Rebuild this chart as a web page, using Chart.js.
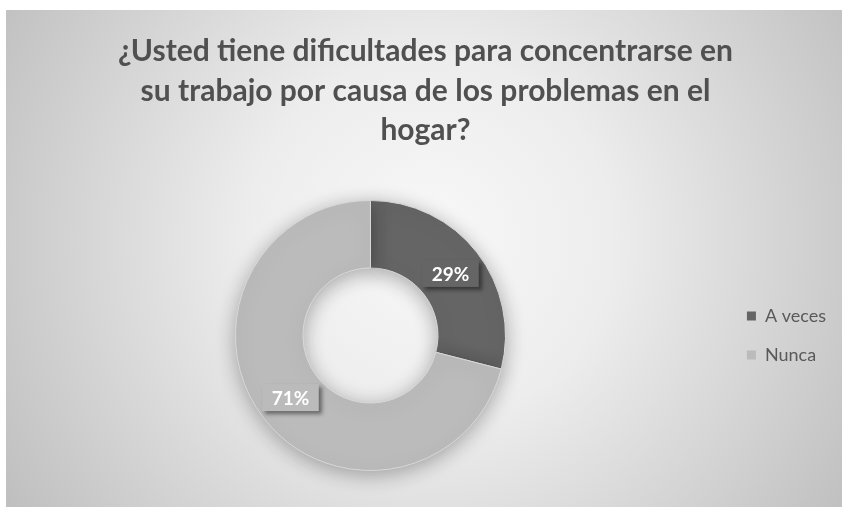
<!DOCTYPE html>
<html>
<head>
<meta charset="utf-8">
<script src="https://cdn.jsdelivr.net/npm/chart.js@4.4.0/dist/chart.umd.min.js"></script>
<style>
  html, body { margin: 0; padding: 0; background: #ffffff; }
  #wrap { width: 842px; height: 510px; position: relative; }
  canvas { display: block; }
</style>
</head>
<body>
<div id="wrap"><canvas id="chart" width="842" height="510"></canvas></div>
<script>
// Survey question and answers
const titleLines = [
  '¿Usted tiene dificultades para concentrarse en',
  'su trabajo por causa de los problemas en el',
  'hogar?'
];
const categories = ['A veces', 'Nunca'];
const percentages = [29, 71];
const sliceColors = ['#656565', '#bbbbbb'];

// Panel background: soft radial gradient from a light centre to grey edges
const panelBackground = {
  id: 'panelBackground',
  beforeDraw(chart) {
    const ctx = chart.ctx;
    ctx.save();
    ctx.fillStyle = '#ffffff';
    ctx.fillRect(0, 0, chart.width, chart.height);
    const g = ctx.createRadialGradient(430, 240, 0, 430, 240, 520);
    g.addColorStop(0, '#f8f8f8');
    g.addColorStop(0.35, '#ededed');
    g.addColorStop(1, '#bcbcbc');
    ctx.fillStyle = g;
    ctx.fillRect(6, 10, chart.width - 6, 497);
    ctx.restore();
  }
};

// Ring shadow and boxed percentage labels at each slice's centre
const ringDecor = {
  id: 'ringDecor',
  beforeDatasetsDraw(chart) {
    const ctx = chart.ctx;
    ctx.save();
    ctx.shadowColor = 'rgba(0,0,0,0.3)';
    ctx.shadowBlur = 20;
    ctx.shadowOffsetX = 0;
    ctx.shadowOffsetY = 4;
  },
  afterDatasetsDraw(chart) {
    const ctx = chart.ctx;
    ctx.restore();
    const meta = chart.getDatasetMeta(0);
    const data = chart.data.datasets[0].data;
    ctx.save();
    ctx.font = 'bold 19px Lato';
    ctx.textAlign = 'center';
    ctx.textBaseline = 'middle';
    meta.data.forEach((arc, i) => {
      const pos = arc.tooltipPosition();
      const text = data[i] + '%';
      const w = ctx.measureText(text).width + 19;
      const h = 27;
      ctx.save();
      ctx.shadowColor = 'rgba(0,0,0,0.45)';
      ctx.shadowBlur = 4;
      ctx.shadowOffsetX = 3;
      ctx.shadowOffsetY = 3;
      ctx.fillStyle = sliceColors[i];
      ctx.fillRect(pos.x - w / 2, pos.y - h / 2, w, h);
      ctx.restore();
      ctx.fillStyle = '#ffffff';
      ctx.fillText(text, pos.x, pos.y + 1);
    });
    ctx.restore();
  }
};

const baseLabels = Chart.overrides.doughnut.plugins.legend.labels.generateLabels;

new Chart(document.getElementById('chart'), {
  type: 'doughnut',
  data: {
    labels: categories,
    datasets: [{
      data: percentages,
      backgroundColor: sliceColors,
      borderColor: '#d8d8d8',
      borderWidth: 1
    }]
  },
  options: {
    responsive: false,
    animation: false,
    cutout: '50%',
    layout: { padding: { top: 10, bottom: 39, left: 15, right: 6 } },
    plugins: {
      tooltip: { enabled: false },
      title: {
        display: true,
        text: titleLines,
        color: '#505050',
        font: { family: 'Lato', size: 30, weight: 'bold', lineHeight: 1.32 },
        padding: { top: 21.5, bottom: 49.7 }
      },
      legend: {
        position: 'right',
        align: 'center',
        fullSize: false,
        labels: {
          boxWidth: 9,
          boxHeight: 9,
          padding: 21,
          color: '#595959',
          font: { family: 'Lato', size: 18 },
          generateLabels(chart) {
            return baseLabels(chart).map(l => Object.assign(l, { lineWidth: 0 }));
          }
        }
      }
    }
  },
  plugins: [panelBackground, ringDecor]
});
</script>
</body>
</html>
